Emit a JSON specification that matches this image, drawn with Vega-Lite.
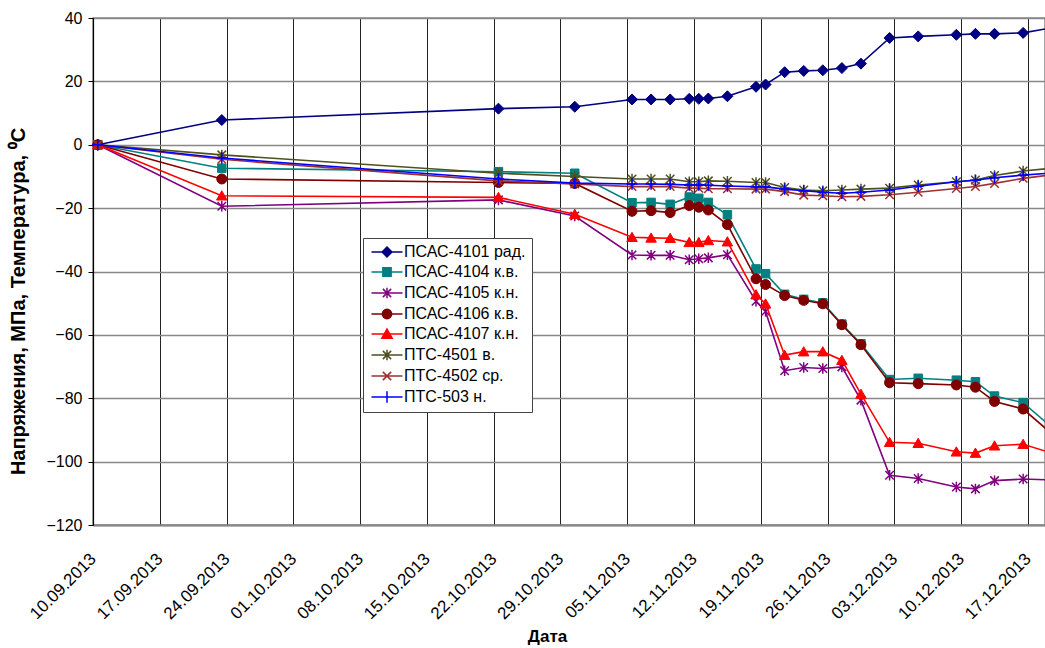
{
  "$schema": "https://vega.github.io/schema/vega-lite/v6.json",
  "autosize": "none",
  "width": 952,
  "height": 507,
  "padding": {"left": 93, "top": 18, "right": 0, "bottom": 123},
  "background": "white",
  "config": {
    "font": "Liberation Sans",
    "view": {"stroke": "#888", "strokeWidth": 1.5},
    "line": {"strokeWidth": 1.6, "clip": true},
    "point": {"clip": true, "size": 100, "filled": true, "opacity": 1}
  },
  "data": {"values": [
    {"d":"2013-09-10","s":"ПСАС-4101 рад.","v":0},{"d":"2013-09-23","s":"ПСАС-4101 рад.","v":7.8},{"d":"2013-10-22","s":"ПСАС-4101 рад.","v":11.4},{"d":"2013-10-30","s":"ПСАС-4101 рад.","v":12.0},{"d":"2013-11-05","s":"ПСАС-4101 рад.","v":14.3},{"d":"2013-11-07","s":"ПСАС-4101 рад.","v":14.3},{"d":"2013-11-09","s":"ПСАС-4101 рад.","v":14.3},{"d":"2013-11-11","s":"ПСАС-4101 рад.","v":14.5},{"d":"2013-11-12","s":"ПСАС-4101 рад.","v":14.5},{"d":"2013-11-13","s":"ПСАС-4101 рад.","v":14.6},{"d":"2013-11-15","s":"ПСАС-4101 рад.","v":15.3},{"d":"2013-11-18","s":"ПСАС-4101 рад.","v":18.3},{"d":"2013-11-19","s":"ПСАС-4101 рад.","v":19.0},{"d":"2013-11-21","s":"ПСАС-4101 рад.","v":22.9},{"d":"2013-11-23","s":"ПСАС-4101 рад.","v":23.3},{"d":"2013-11-25","s":"ПСАС-4101 рад.","v":23.5},{"d":"2013-11-27","s":"ПСАС-4101 рад.","v":24.2},{"d":"2013-11-29","s":"ПСАС-4101 рад.","v":25.6},{"d":"2013-12-02","s":"ПСАС-4101 рад.","v":33.7},{"d":"2013-12-05","s":"ПСАС-4101 рад.","v":34.2},{"d":"2013-12-09","s":"ПСАС-4101 рад.","v":34.7},{"d":"2013-12-11","s":"ПСАС-4101 рад.","v":35.0},{"d":"2013-12-13","s":"ПСАС-4101 рад.","v":35.0},{"d":"2013-12-16","s":"ПСАС-4101 рад.","v":35.3},{"d":"2013-12-19","s":"ПСАС-4101 рад.","v":36.9},
    {"d":"2013-09-10","s":"ПСАС-4104 к.в.","v":0},{"d":"2013-09-23","s":"ПСАС-4104 к.в.","v":-7.4},{"d":"2013-10-22","s":"ПСАС-4104 к.в.","v":-8.5},{"d":"2013-10-30","s":"ПСАС-4104 к.в.","v":-9.0},{"d":"2013-11-05","s":"ПСАС-4104 к.в.","v":-18.3},{"d":"2013-11-07","s":"ПСАС-4104 к.в.","v":-18.2},{"d":"2013-11-09","s":"ПСАС-4104 к.в.","v":-18.8},{"d":"2013-11-11","s":"ПСАС-4104 к.в.","v":-16.5},{"d":"2013-11-12","s":"ПСАС-4104 к.в.","v":-16.9},{"d":"2013-11-13","s":"ПСАС-4104 к.в.","v":-18.2},{"d":"2013-11-15","s":"ПСАС-4104 к.в.","v":-22.1},{"d":"2013-11-18","s":"ПСАС-4104 к.в.","v":-39.2},{"d":"2013-11-19","s":"ПСАС-4104 к.в.","v":-40.7},{"d":"2013-11-21","s":"ПСАС-4104 к.в.","v":-47.2},{"d":"2013-11-23","s":"ПСАС-4104 к.в.","v":-48.8},{"d":"2013-11-25","s":"ПСАС-4104 к.в.","v":-49.9},{"d":"2013-11-27","s":"ПСАС-4104 к.в.","v":-56.6},{"d":"2013-11-29","s":"ПСАС-4104 к.в.","v":-62.8},{"d":"2013-12-02","s":"ПСАС-4104 к.в.","v":-74.1},{"d":"2013-12-05","s":"ПСАС-4104 к.в.","v":-73.7},{"d":"2013-12-09","s":"ПСАС-4104 к.в.","v":-74.3},{"d":"2013-12-11","s":"ПСАС-4104 к.в.","v":-74.8},{"d":"2013-12-13","s":"ПСАС-4104 к.в.","v":-79.3},{"d":"2013-12-16","s":"ПСАС-4104 к.в.","v":-81.4},{"d":"2013-12-19","s":"ПСАС-4104 к.в.","v":-89.2},
    {"d":"2013-09-10","s":"ПСАС-4105 к.н.","v":0},{"d":"2013-09-23","s":"ПСАС-4105 к.н.","v":-19.4},{"d":"2013-10-22","s":"ПСАС-4105 к.н.","v":-17.4},{"d":"2013-10-30","s":"ПСАС-4105 к.н.","v":-22.5},{"d":"2013-11-05","s":"ПСАС-4105 к.н.","v":-34.8},{"d":"2013-11-07","s":"ПСАС-4105 к.н.","v":-34.9},{"d":"2013-11-09","s":"ПСАС-4105 к.н.","v":-34.9},{"d":"2013-11-11","s":"ПСАС-4105 к.н.","v":-36.3},{"d":"2013-11-12","s":"ПСАС-4105 к.н.","v":-36.0},{"d":"2013-11-13","s":"ПСАС-4105 к.н.","v":-35.7},{"d":"2013-11-15","s":"ПСАС-4105 к.н.","v":-34.7},{"d":"2013-11-18","s":"ПСАС-4105 к.н.","v":-49.4},{"d":"2013-11-19","s":"ПСАС-4105 к.н.","v":-52.6},{"d":"2013-11-21","s":"ПСАС-4105 к.н.","v":-71.3},{"d":"2013-11-23","s":"ПСАС-4105 к.н.","v":-70.3},{"d":"2013-11-25","s":"ПСАС-4105 к.н.","v":-70.6},{"d":"2013-11-27","s":"ПСАС-4105 к.н.","v":-70.1},{"d":"2013-11-29","s":"ПСАС-4105 к.н.","v":-80.6},{"d":"2013-12-02","s":"ПСАС-4105 к.н.","v":-104.3},{"d":"2013-12-05","s":"ПСАС-4105 к.н.","v":-105.3},{"d":"2013-12-09","s":"ПСАС-4105 к.н.","v":-108.0},{"d":"2013-12-11","s":"ПСАС-4105 к.н.","v":-108.6},{"d":"2013-12-13","s":"ПСАС-4105 к.н.","v":-106.0},{"d":"2013-12-16","s":"ПСАС-4105 к.н.","v":-105.5},{"d":"2013-12-19","s":"ПСАС-4105 к.н.","v":-105.8},
    {"d":"2013-09-10","s":"ПСАС-4106 к.в.","v":0},{"d":"2013-09-23","s":"ПСАС-4106 к.в.","v":-10.8},{"d":"2013-10-22","s":"ПСАС-4106 к.в.","v":-11.9},{"d":"2013-10-30","s":"ПСАС-4106 к.в.","v":-12.2},{"d":"2013-11-05","s":"ПСАС-4106 к.в.","v":-21.0},{"d":"2013-11-07","s":"ПСАС-4106 к.в.","v":-20.8},{"d":"2013-11-09","s":"ПСАС-4106 к.в.","v":-21.4},{"d":"2013-11-11","s":"ПСАС-4106 к.в.","v":-19.2},{"d":"2013-11-12","s":"ПСАС-4106 к.в.","v":-19.7},{"d":"2013-11-13","s":"ПСАС-4106 к.в.","v":-20.6},{"d":"2013-11-15","s":"ПСАС-4106 к.в.","v":-25.2},{"d":"2013-11-18","s":"ПСАС-4106 к.в.","v":-42.3},{"d":"2013-11-19","s":"ПСАС-4106 к.в.","v":-44.1},{"d":"2013-11-21","s":"ПСАС-4106 к.в.","v":-47.6},{"d":"2013-11-23","s":"ПСАС-4106 к.в.","v":-49.1},{"d":"2013-11-25","s":"ПСАС-4106 к.в.","v":-50.2},{"d":"2013-11-27","s":"ПСАС-4106 к.в.","v":-56.8},{"d":"2013-11-29","s":"ПСАС-4106 к.в.","v":-63.1},{"d":"2013-12-02","s":"ПСАС-4106 к.в.","v":-75.1},{"d":"2013-12-05","s":"ПСАС-4106 к.в.","v":-75.4},{"d":"2013-12-09","s":"ПСАС-4106 к.в.","v":-75.8},{"d":"2013-12-11","s":"ПСАС-4106 к.в.","v":-76.5},{"d":"2013-12-13","s":"ПСАС-4106 к.в.","v":-81.0},{"d":"2013-12-16","s":"ПСАС-4106 к.в.","v":-83.4},{"d":"2013-12-19","s":"ПСАС-4106 к.в.","v":-91.2},
    {"d":"2013-09-10","s":"ПСАС-4107 к.н.","v":0},{"d":"2013-09-23","s":"ПСАС-4107 к.н.","v":-16.1},{"d":"2013-10-22","s":"ПСАС-4107 к.н.","v":-16.6},{"d":"2013-10-30","s":"ПСАС-4107 к.н.","v":-21.9},{"d":"2013-11-05","s":"ПСАС-4107 к.н.","v":-29.2},{"d":"2013-11-07","s":"ПСАС-4107 к.н.","v":-29.4},{"d":"2013-11-09","s":"ПСАС-4107 к.н.","v":-29.5},{"d":"2013-11-11","s":"ПСАС-4107 к.н.","v":-30.8},{"d":"2013-11-12","s":"ПСАС-4107 к.н.","v":-30.8},{"d":"2013-11-13","s":"ПСАС-4107 к.н.","v":-30.2},{"d":"2013-11-15","s":"ПСАС-4107 к.н.","v":-30.6},{"d":"2013-11-18","s":"ПСАС-4107 к.н.","v":-47.3},{"d":"2013-11-19","s":"ПСАС-4107 к.н.","v":-50.2},{"d":"2013-11-21","s":"ПСАС-4107 к.н.","v":-66.4},{"d":"2013-11-23","s":"ПСАС-4107 к.н.","v":-65.3},{"d":"2013-11-25","s":"ПСАС-4107 к.н.","v":-65.3},{"d":"2013-11-27","s":"ПСАС-4107 к.н.","v":-68.0},{"d":"2013-11-29","s":"ПСАС-4107 к.н.","v":-78.7},{"d":"2013-12-02","s":"ПСАС-4107 к.н.","v":-93.9},{"d":"2013-12-05","s":"ПСАС-4107 к.н.","v":-94.2},{"d":"2013-12-09","s":"ПСАС-4107 к.н.","v":-96.9},{"d":"2013-12-11","s":"ПСАС-4107 к.н.","v":-97.3},{"d":"2013-12-13","s":"ПСАС-4107 к.н.","v":-95.0},{"d":"2013-12-16","s":"ПСАС-4107 к.н.","v":-94.5},{"d":"2013-12-19","s":"ПСАС-4107 к.н.","v":-97.3},
    {"d":"2013-09-10","s":"ПТС-4501 в.","v":0},{"d":"2013-09-23","s":"ПТС-4501 в.","v":-3.2},{"d":"2013-10-22","s":"ПТС-4501 в.","v":-9.0},{"d":"2013-10-30","s":"ПТС-4501 в.","v":-10.0},{"d":"2013-11-05","s":"ПТС-4501 в.","v":-10.8},{"d":"2013-11-07","s":"ПТС-4501 в.","v":-10.8},{"d":"2013-11-09","s":"ПТС-4501 в.","v":-10.8},{"d":"2013-11-11","s":"ПТС-4501 в.","v":-11.7},{"d":"2013-11-12","s":"ПТС-4501 в.","v":-11.7},{"d":"2013-11-13","s":"ПТС-4501 в.","v":-11.4},{"d":"2013-11-15","s":"ПТС-4501 в.","v":-11.5},{"d":"2013-11-18","s":"ПТС-4501 в.","v":-11.9},{"d":"2013-11-19","s":"ПТС-4501 в.","v":-11.9},{"d":"2013-11-21","s":"ПТС-4501 в.","v":-13.5},{"d":"2013-11-23","s":"ПТС-4501 в.","v":-14.3},{"d":"2013-11-25","s":"ПТС-4501 в.","v":-14.5},{"d":"2013-11-27","s":"ПТС-4501 в.","v":-14.3},{"d":"2013-11-29","s":"ПТС-4501 в.","v":-14.0},{"d":"2013-12-02","s":"ПТС-4501 в.","v":-13.7},{"d":"2013-12-05","s":"ПТС-4501 в.","v":-12.7},{"d":"2013-12-09","s":"ПТС-4501 в.","v":-11.7},{"d":"2013-12-11","s":"ПТС-4501 в.","v":-11.1},{"d":"2013-12-13","s":"ПТС-4501 в.","v":-9.7},{"d":"2013-12-16","s":"ПТС-4501 в.","v":-8.3},{"d":"2013-12-19","s":"ПТС-4501 в.","v":-7.4},
    {"d":"2013-09-10","s":"ПТС-4502 ср.","v":0},{"d":"2013-09-23","s":"ПТС-4502 ср.","v":-4.6},{"d":"2013-10-22","s":"ПТС-4502 ср.","v":-11.4},{"d":"2013-10-30","s":"ПТС-4502 ср.","v":-12.4},{"d":"2013-11-05","s":"ПТС-4502 ср.","v":-13.2},{"d":"2013-11-07","s":"ПТС-4502 ср.","v":-13.2},{"d":"2013-11-09","s":"ПТС-4502 ср.","v":-13.2},{"d":"2013-11-11","s":"ПТС-4502 ср.","v":-13.7},{"d":"2013-11-12","s":"ПТС-4502 ср.","v":-13.7},{"d":"2013-11-13","s":"ПТС-4502 ср.","v":-13.9},{"d":"2013-11-15","s":"ПТС-4502 ср.","v":-13.9},{"d":"2013-11-18","s":"ПТС-4502 ср.","v":-14.0},{"d":"2013-11-19","s":"ПТС-4502 ср.","v":-14.0},{"d":"2013-11-21","s":"ПТС-4502 ср.","v":-14.8},{"d":"2013-11-23","s":"ПТС-4502 ср.","v":-15.9},{"d":"2013-11-25","s":"ПТС-4502 ср.","v":-16.1},{"d":"2013-11-27","s":"ПТС-4502 ср.","v":-16.4},{"d":"2013-11-29","s":"ПТС-4502 ср.","v":-16.3},{"d":"2013-12-02","s":"ПТС-4502 ср.","v":-15.8},{"d":"2013-12-05","s":"ПТС-4502 ср.","v":-15.0},{"d":"2013-12-09","s":"ПТС-4502 ср.","v":-13.8},{"d":"2013-12-11","s":"ПТС-4502 ср.","v":-13.2},{"d":"2013-12-13","s":"ПТС-4502 ср.","v":-12.2},{"d":"2013-12-16","s":"ПТС-4502 ср.","v":-10.6},{"d":"2013-12-19","s":"ПТС-4502 ср.","v":-9.5},
    {"d":"2013-09-10","s":"ПТС-503 н.","v":0},{"d":"2013-09-23","s":"ПТС-503 н.","v":-4.2},{"d":"2013-10-22","s":"ПТС-503 н.","v":-10.8},{"d":"2013-10-30","s":"ПТС-503 н.","v":-12.1},{"d":"2013-11-05","s":"ПТС-503 н.","v":-12.4},{"d":"2013-11-07","s":"ПТС-503 н.","v":-12.4},{"d":"2013-11-09","s":"ПТС-503 н.","v":-12.5},{"d":"2013-11-11","s":"ПТС-503 н.","v":-12.7},{"d":"2013-11-12","s":"ПТС-503 н.","v":-12.7},{"d":"2013-11-13","s":"ПТС-503 н.","v":-12.8},{"d":"2013-11-15","s":"ПТС-503 н.","v":-13.0},{"d":"2013-11-18","s":"ПТС-503 н.","v":-13.3},{"d":"2013-11-19","s":"ПТС-503 н.","v":-13.3},{"d":"2013-11-21","s":"ПТС-503 н.","v":-14.0},{"d":"2013-11-23","s":"ПТС-503 н.","v":-14.5},{"d":"2013-11-25","s":"ПТС-503 н.","v":-15.0},{"d":"2013-11-27","s":"ПТС-503 н.","v":-15.3},{"d":"2013-11-29","s":"ПТС-503 н.","v":-15.0},{"d":"2013-12-02","s":"ПТС-503 н.","v":-14.3},{"d":"2013-12-05","s":"ПТС-503 н.","v":-13.1},{"d":"2013-12-09","s":"ПТС-503 н.","v":-11.7},{"d":"2013-12-11","s":"ПТС-503 н.","v":-11.2},{"d":"2013-12-13","s":"ПТС-503 н.","v":-10.4},{"d":"2013-12-16","s":"ПТС-503 н.","v":-9.6},{"d":"2013-12-19","s":"ПТС-503 н.","v":-8.9}
  ]},
  "encoding": {
    "x": {
      "field": "d", "type": "temporal",
      "scale": {"type": "utc", "domain": [{"year": 2013, "month": 9, "date": 9, "hours": 12, "utc": true}, {"year": 2013, "month": 12, "date": 18, "hours": 7, "utc": true}]},
      "axis": {
        "values": [
          {"year": 2013, "month": 9, "date": 9, "hours": 12, "utc": true},
          {"year": 2013, "month": 9, "date": 16, "hours": 12, "utc": true},
          {"year": 2013, "month": 9, "date": 23, "hours": 12, "utc": true},
          {"year": 2013, "month": 9, "date": 30, "hours": 12, "utc": true},
          {"year": 2013, "month": 10, "date": 7, "hours": 12, "utc": true},
          {"year": 2013, "month": 10, "date": 14, "hours": 12, "utc": true},
          {"year": 2013, "month": 10, "date": 21, "hours": 12, "utc": true},
          {"year": 2013, "month": 10, "date": 28, "hours": 12, "utc": true},
          {"year": 2013, "month": 11, "date": 4, "hours": 12, "utc": true},
          {"year": 2013, "month": 11, "date": 11, "hours": 12, "utc": true},
          {"year": 2013, "month": 11, "date": 18, "hours": 12, "utc": true},
          {"year": 2013, "month": 11, "date": 25, "hours": 12, "utc": true},
          {"year": 2013, "month": 12, "date": 2, "hours": 12, "utc": true},
          {"year": 2013, "month": 12, "date": 9, "hours": 12, "utc": true},
          {"year": 2013, "month": 12, "date": 16, "hours": 12, "utc": true}
        ],
        "labelExpr": "utcFormat(datum.value + 43200000, '%d.%m.%Y')",
        "labelAngle": -45, "labelAlign": "right", "labelBaseline": "middle",
        "labelPadding": 31, "labelFontSize": 17, "labelColor": "#000", "labelDx": -3,
        "labelOverlap": false, "labelBound": false, "labelFlush": false,
        "ticks": false, "grid": true, "gridColor": "#222", "gridWidth": 1,
        "domainColor": "#888", "domainWidth": 2,
        "title": "Дата", "titleFontSize": 17, "titleFontWeight": "bold", "titleColor": "#000",
        "titleX": 454, "titleY": 111, "titleBaseline": "middle", "titleAlign": "center"
      }
    },
    "y": {
      "field": "v", "type": "quantitative",
      "scale": {"domain": [-120, 40], "nice": false, "zero": false},
      "axis": {
        "values": [-120, -100, -80, -60, -40, -20, 0, 20, 40],
        "grid": true, "gridColor": "#888", "gridWidth": 1.5,
        "domainColor": "#000", "domainWidth": 1.2, "tickColor": "#000", "tickSize": 5,
        "labelFontSize": 16, "labelPadding": 6, "labelColor": "#000",
        "title": "Напряжения, МПа, Температура, ⁰C",
        "titleFontSize": 20, "titleFontWeight": "bold", "titleColor": "#000",
        "titleAngle": -90, "titleX": -75, "titleY": 283, "titleAlign": "center", "titleBaseline": "middle"
      }
    }
  },
  "layer": [
    {"transform": [{"filter": "datum.s === 'ПСАС-4101 рад.'"}], "mark": {"type": "line", "stroke": "#000080"}},
    {"transform": [{"filter": "datum.s === 'ПСАС-4101 рад.'"}],
     "mark": {"type": "point", "fill": "#000080", "stroke": "#000080", "strokeWidth": 1, "shape": "M0,-1.1L1.1,0L0,1.1L-1.1,0Z"}},
    {"transform": [{"filter": "datum.s === 'ПСАС-4104 к.в.'"}], "mark": {"type": "line", "stroke": "#008080"}},
    {"transform": [{"filter": "datum.s === 'ПСАС-4104 к.в.'"}],
     "mark": {"type": "point", "fill": "#008080", "stroke": "#008080", "strokeWidth": 1, "shape": "M-0.85,-0.85L0.85,-0.85L0.85,0.85L-0.85,0.85Z"}},
    {"transform": [{"filter": "datum.s === 'ПСАС-4105 к.н.'"}], "mark": {"type": "line", "stroke": "#800080"}},
    {"transform": [{"filter": "datum.s === 'ПСАС-4105 к.н.'"}],
     "mark": {"type": "point", "fill": "#800080", "stroke": "#800080", "strokeWidth": 1.5, "shape": "M-0.85,-0.85L0.85,0.85M-0.85,0.85L0.85,-0.85M0,-1.05L0,1.05"}},
    {"transform": [{"filter": "datum.s === 'ПСАС-4106 к.в.'"}], "mark": {"type": "line", "stroke": "#800000"}},
    {"transform": [{"filter": "datum.s === 'ПСАС-4106 к.в.'"}],
     "mark": {"type": "point", "fill": "#800000", "stroke": "#800000", "strokeWidth": 1, "shape": "M1,0A1,1,0,1,1,-1,0A1,1,0,1,1,1,0Z"}},
    {"transform": [{"filter": "datum.s === 'ПСАС-4107 к.н.'"}], "mark": {"type": "line", "stroke": "#FF0000"}},
    {"transform": [{"filter": "datum.s === 'ПСАС-4107 к.н.'"}],
     "mark": {"type": "point", "fill": "#FF0000", "stroke": "#FF0000", "strokeWidth": 1, "shape": "M0,-1L1.05,0.85L-1.05,0.85Z"}},
    {"transform": [{"filter": "datum.s === 'ПТС-4501 в.'"}], "mark": {"type": "line", "stroke": "#4F4F1F"}},
    {"transform": [{"filter": "datum.s === 'ПТС-4501 в.'"}],
     "mark": {"type": "point", "fill": "#4F4F1F", "stroke": "#4F4F1F", "strokeWidth": 1.5, "shape": "M-0.85,-0.85L0.85,0.85M-0.85,0.85L0.85,-0.85M0,-1.05L0,1.05"}},
    {"transform": [{"filter": "datum.s === 'ПТС-4502 ср.'"}], "mark": {"type": "line", "stroke": "#9E3030"}},
    {"transform": [{"filter": "datum.s === 'ПТС-4502 ср.'"}],
     "mark": {"type": "point", "fill": "#9E3030", "stroke": "#9E3030", "strokeWidth": 1.5, "shape": "M-0.85,-0.85L0.85,0.85M-0.85,0.85L0.85,-0.85"}},
    {"transform": [{"filter": "datum.s === 'ПТС-503 н.'"}], "mark": {"type": "line", "stroke": "#0000FF"}},
    {"transform": [{"filter": "datum.s === 'ПТС-503 н.'"}],
     "mark": {"type": "point", "fill": "#0000FF", "stroke": "#0000FF", "strokeWidth": 1.5, "shape": "M-1.1,0L1.1,0M0,-1.15L0,1.15"}},
    {"transform": [{"filter": "false"}],
     "mark": {"type": "point", "filled": true, "strokeWidth": 1.5},
     "encoding": {
       "fill": {"field": "s", "type": "nominal",
         "legend": {
           "orient": "none", "legendX": 270, "legendY": 220, "title": null,
           "labelFont": "Liberation Sans", "labelFontSize": 16, "labelColor": "#000",
           "symbolSize": 107, "symbolStrokeWidth": 1.5, "symbolOffset": 10, "labelOffset": 9,
           "rowPadding": 4, "padding": 6, "strokeColor": "#444", "fillColor": "#fff", "symbolOpacity": 1
         },
         "scale": {"domain": ["ПСАС-4101 рад.", "ПСАС-4104 к.в.", "ПСАС-4105 к.н.", "ПСАС-4106 к.в.", "ПСАС-4107 к.н.", "ПТС-4501 в.", "ПТС-4502 ср.", "ПТС-503 н."],
                   "range": ["#000080", "#008080", "#800080", "#800000", "#FF0000", "#4F4F1F", "#9E3030", "#0000FF"]}},
       "stroke": {"field": "s", "type": "nominal",
         "legend": {
           "orient": "none", "legendX": 270, "legendY": 220, "title": null,
           "labelFont": "Liberation Sans", "labelFontSize": 16, "labelColor": "#000",
           "symbolSize": 107, "symbolStrokeWidth": 1.5, "symbolOffset": 10, "labelOffset": 9,
           "rowPadding": 4, "padding": 6, "strokeColor": "#444", "fillColor": "#fff", "symbolOpacity": 1
         },
         "scale": {"domain": ["ПСАС-4101 рад.", "ПСАС-4104 к.в.", "ПСАС-4105 к.н.", "ПСАС-4106 к.в.", "ПСАС-4107 к.н.", "ПТС-4501 в.", "ПТС-4502 ср.", "ПТС-503 н."],
                   "range": ["#000080", "#008080", "#800080", "#800000", "#FF0000", "#4F4F1F", "#9E3030", "#0000FF"]}},
       "shape": {"field": "s", "type": "nominal",
         "legend": {
           "orient": "none", "legendX": 270, "legendY": 220, "title": null,
           "labelFont": "Liberation Sans", "labelFontSize": 16, "labelColor": "#000",
           "symbolSize": 107, "symbolStrokeWidth": 1.5, "symbolOffset": 10, "labelOffset": 9,
           "rowPadding": 4, "padding": 6, "strokeColor": "#444", "fillColor": "#fff", "symbolOpacity": 1
         },
         "scale": {"domain": ["ПСАС-4101 рад.", "ПСАС-4104 к.в.", "ПСАС-4105 к.н.", "ПСАС-4106 к.в.", "ПСАС-4107 к.н.", "ПТС-4501 в.", "ПТС-4502 ср.", "ПТС-503 н."],
                   "range": [
                     "M-3,0L3,0M0,-0.95L0.95,0L0,0.95L-0.95,0Z",
                     "M-3,0L3,0M-0.8,-0.8L0.8,-0.8L0.8,0.8L-0.8,0.8Z",
                     "M-3,0L3,0M-0.8,-0.8L0.8,0.8M-0.8,0.8L0.8,-0.8M0,-1L0,1",
                     "M-3,0L3,0M0.9,0A0.9,0.9,0,1,1,-0.9,0A0.9,0.9,0,1,1,0.9,0Z",
                     "M-3,0L3,0M0,-0.95L1,0.8L-1,0.8Z",
                     "M-3,0L3,0M-0.8,-0.8L0.8,0.8M-0.8,0.8L0.8,-0.8M0,-1L0,1",
                     "M-3,0L3,0M-0.8,-0.8L0.8,0.8M-0.8,0.8L0.8,-0.8",
                     "M-3,0L3,0M0,-1.1L0,1.1"
                   ]}}
     }}
  ]
}
